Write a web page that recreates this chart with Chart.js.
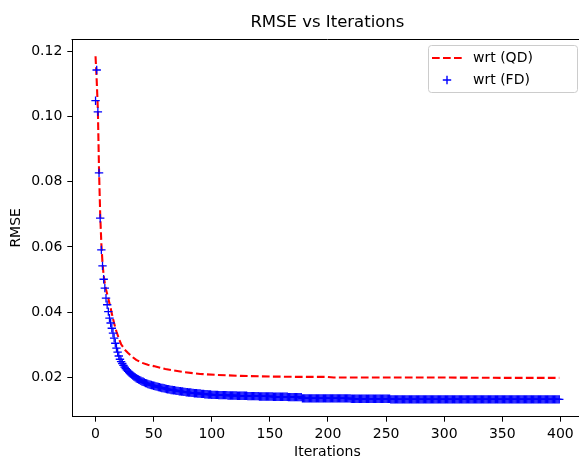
<!DOCTYPE html>
<html>
<head>
<meta charset="utf-8">
<script src="https://cdn.jsdelivr.net/npm/chart.js@4.4.1/dist/chart.umd.min.js"></script>
<style>
  html, body { margin: 0; padding: 0; background: #fff; overflow: hidden; }
  #wrap { width: 588px; height: 461px; }
</style>
</head>
<body>
<div id="wrap"><canvas id="rmseChart" width="588" height="461"></canvas></div>
<script>
/*---------------------------- data ------------------------------------*/

var titleText = "RMSE vs Iterations";
var xLabel = "Iterations";
var yLabel = "RMSE";

// iteration index 0..399 (one blue marker per iteration)
var iterations = Array.from({ length: 400 }, function (_, i) { return i; });

// red dashed line, wrt (QD), read at a set of iterations
var qdIters = [0, 1, 2, 3, 4, 5, 6, 7, 8, 9, 10, 11, 12, 13, 14, 15, 16, 17, 18, 20,
  22, 25, 28, 31, 35, 40, 45, 50, 60, 75, 90, 104, 125, 150, 175, 199, 205, 250, 300, 350, 399];
var qdRmse = [0.1184, 0.1110, 0.1020, 0.0835, 0.0700, 0.0610, 0.0550, 0.0512, 0.0488, 0.0470,
  0.0456, 0.0442, 0.0427, 0.0412, 0.0396, 0.0380, 0.0366, 0.0353, 0.0341, 0.0320,
  0.0302, 0.0286, 0.0275, 0.0265, 0.0254, 0.0245, 0.0239, 0.0235, 0.0226, 0.0217,
  0.0211, 0.0208, 0.0205, 0.0203, 0.0202, 0.0202, 0.0200, 0.0200, 0.0200, 0.0199, 0.0199];

// blue "+" markers, wrt (FD), one value per iteration
var fdRmse = [
  0.1048, 0.1142, 0.1014, 0.0827, 0.0688, 0.0591, 0.0542, 0.0501, 0.0474, 0.0443, // 0
  0.0423, 0.0402, 0.0382, 0.0367, 0.0351, 0.0336, 0.0321, 0.0305, 0.0290, 0.0278, // 10
  0.0266, 0.0256, 0.0249, 0.0243, 0.0237, 0.0232, 0.0227, 0.0223, 0.0219, 0.0215, // 20
  0.0212, 0.0209, 0.0206, 0.0203, 0.0201, 0.0198, 0.0196, 0.0194, 0.0192, 0.0190, // 30
  0.0188, 0.0187, 0.0185, 0.0183, 0.0182, 0.0180, 0.0179, 0.0178, 0.0177, 0.0176, // 40
  0.0175, 0.0174, 0.0173, 0.0172, 0.0171, 0.0170, 0.0169, 0.0168, 0.0168, 0.0167, // 50
  0.0166, 0.0165, 0.0164, 0.0164, 0.0163, 0.0162, 0.0162, 0.0161, 0.0161, 0.0160, // 60
  0.0159, 0.0159, 0.0158, 0.0158, 0.0157, 0.0157, 0.0156, 0.0156, 0.0155, 0.0155, // 70
  0.0154, 0.0154, 0.0154, 0.0153, 0.0153, 0.0152, 0.0152, 0.0152, 0.0151, 0.0151, // 80
  0.0151, 0.0150, 0.0150, 0.0150, 0.0149, 0.0149, 0.0149, 0.0148, 0.0148, 0.0148, // 90
  0.0147, 0.0147, 0.0147, 0.0147, 0.0147, 0.0147, 0.0146, 0.0146, 0.0146, 0.0146, // 100
  0.0146, 0.0146, 0.0146, 0.0146, 0.0145, 0.0145, 0.0145, 0.0145, 0.0145, 0.0145, // 110
  0.0145, 0.0145, 0.0144, 0.0144, 0.0144, 0.0144, 0.0144, 0.0144, 0.0144, 0.0144, // 120
  0.0144, 0.0143, 0.0143, 0.0143, 0.0143, 0.0143, 0.0143, 0.0143, 0.0143, 0.0143, // 130
  0.0143, 0.0142, 0.0142, 0.0142, 0.0142, 0.0142, 0.0142, 0.0142, 0.0142, 0.0142, // 140
  0.0142, 0.0142, 0.0142, 0.0141, 0.0141, 0.0141, 0.0141, 0.0141, 0.0141, 0.0141, // 150
  0.0141, 0.0141, 0.0141, 0.0141, 0.0141, 0.0141, 0.0140, 0.0140, 0.0140, 0.0140, // 160
  0.0140, 0.0140, 0.0140, 0.0140, 0.0140, 0.0140, 0.0140, 0.0140, 0.0136, 0.0136, // 170
  0.0136, 0.0136, 0.0136, 0.0136, 0.0136, 0.0136, 0.0136, 0.0136, 0.0136, 0.0136, // 180
  0.0136, 0.0136, 0.0136, 0.0136, 0.0136, 0.0136, 0.0136, 0.0136, 0.0136, 0.0136, // 190
  0.0136, 0.0136, 0.0136, 0.0136, 0.0136, 0.0136, 0.0136, 0.0136, 0.0136, 0.0136, // 200
  0.0136, 0.0136, 0.0136, 0.0136, 0.0136, 0.0136, 0.0136, 0.0136, 0.0136, 0.0136, // 210
  0.0135, 0.0135, 0.0135, 0.0135, 0.0135, 0.0135, 0.0135, 0.0135, 0.0135, 0.0135, // 220
  0.0135, 0.0135, 0.0135, 0.0135, 0.0135, 0.0135, 0.0135, 0.0135, 0.0135, 0.0135, // 230
  0.0135, 0.0135, 0.0135, 0.0135, 0.0135, 0.0135, 0.0135, 0.0135, 0.0135, 0.0135, // 240
  0.0135, 0.0135, 0.0135, 0.0135, 0.0133, 0.0133, 0.0133, 0.0133, 0.0133, 0.0133, // 250
  0.0133, 0.0133, 0.0133, 0.0133, 0.0133, 0.0133, 0.0133, 0.0133, 0.0133, 0.0133, // 260
  0.0133, 0.0133, 0.0133, 0.0133, 0.0133, 0.0133, 0.0133, 0.0133, 0.0133, 0.0133, // 270
  0.0133, 0.0133, 0.0133, 0.0133, 0.0133, 0.0133, 0.0133, 0.0133, 0.0133, 0.0133, // 280
  0.0133, 0.0133, 0.0133, 0.0133, 0.0133, 0.0133, 0.0133, 0.0133, 0.0133, 0.0133, // 290
  0.0133, 0.0133, 0.0133, 0.0133, 0.0133, 0.0133, 0.0133, 0.0133, 0.0133, 0.0133, // 300
  0.0133, 0.0133, 0.0133, 0.0133, 0.0133, 0.0133, 0.0133, 0.0133, 0.0133, 0.0133, // 310
  0.0133, 0.0133, 0.0133, 0.0133, 0.0133, 0.0133, 0.0133, 0.0133, 0.0133, 0.0133, // 320
  0.0133, 0.0133, 0.0133, 0.0133, 0.0133, 0.0133, 0.0133, 0.0133, 0.0133, 0.0133, // 330
  0.0133, 0.0133, 0.0133, 0.0133, 0.0133, 0.0133, 0.0133, 0.0133, 0.0133, 0.0133, // 340
  0.0133, 0.0133, 0.0133, 0.0133, 0.0133, 0.0133, 0.0133, 0.0133, 0.0133, 0.0133, // 350
  0.0133, 0.0133, 0.0133, 0.0133, 0.0133, 0.0133, 0.0133, 0.0133, 0.0133, 0.0133, // 360
  0.0133, 0.0133, 0.0133, 0.0133, 0.0133, 0.0133, 0.0133, 0.0133, 0.0133, 0.0133, // 370
  0.0133, 0.0133, 0.0133, 0.0133, 0.0133, 0.0133, 0.0133, 0.0133, 0.0133, 0.0133, // 380
  0.0133, 0.0133, 0.0133, 0.0133, 0.0133, 0.0133, 0.0133, 0.0133, 0.0133, 0.0133  // 390
];

var seriesNames = ["wrt (QD)", "wrt (FD)"];
var xTicks = [0, 50, 100, 150, 200, 250, 300, 350, 400];
var yTicks = [0.02, 0.04, 0.06, 0.08, 0.10, 0.12];

/*---------------------------- plugins ------------------------------------*/

// top and right spines (chart.js only draws the axis borders)
var frame = {
  id: "frame",
  afterDraw: function (chart) {
    var a = chart.chartArea, ctx = chart.ctx;
    ctx.save();
    ctx.strokeStyle = "#000";
    ctx.lineWidth = 1;
    ctx.beginPath();
    ctx.moveTo(Math.round(a.left) - 0.5, Math.round(a.top) + 0.5);
    ctx.lineTo(Math.round(a.right) + 0.5, Math.round(a.top) + 0.5);
    ctx.lineTo(Math.round(a.right) + 0.5, Math.round(a.bottom));
    ctx.stroke();
    ctx.restore();
  }
};

// matplotlib style legend box inside the plot, upper right
var boxLegend = {
  id: "boxLegend",
  afterDraw: function (chart) {
    var a = chart.chartArea, ctx = chart.ctx;
    var ds = chart.data.datasets;
    var x = a.right - 154.5, y = a.top + 6, w = 149, h = 47;
    ctx.save();
    ctx.fillStyle = "rgba(255,255,255,0.8)";
    ctx.strokeStyle = "#cccccc";
    ctx.lineWidth = 1;
    ctx.beginPath();
    ctx.roundRect(Math.round(x) + 0.5, Math.round(y) + 0.5, w, h, 3);
    ctx.fill();
    ctx.stroke();

    ctx.font = "14px 'DejaVu Sans'";
    ctx.fillStyle = "#000";
    ctx.textBaseline = "middle";

    // row 1: dashed line
    var r1 = y + 13;
    ctx.strokeStyle = ds[0].borderColor;
    ctx.lineWidth = 2.1;
    ctx.setLineDash([7.7, 3.3]);
    ctx.beginPath();
    ctx.moveTo(x + 4, r1);
    ctx.lineTo(x + 34, r1);
    ctx.stroke();
    ctx.setLineDash([]);
    ctx.fillText(ds[0].label, x + 45, r1);

    // row 2: plus marker
    var r2 = y + 35;
    ctx.strokeStyle = ds[1].pointBorderColor;
    ctx.lineWidth = 1.4;
    ctx.beginPath();
    ctx.moveTo(x + 19 - 4.2, r2);
    ctx.lineTo(x + 19 + 4.2, r2);
    ctx.moveTo(x + 19, r2 - 4.2);
    ctx.lineTo(x + 19, r2 + 4.2);
    ctx.stroke();
    ctx.fillText(ds[1].label, x + 45, r2);
    ctx.restore();
  }
};

/*---------------------------- chart ------------------------------------*/

Chart.defaults.font.family = "'DejaVu Sans', sans-serif";
Chart.defaults.color = "#000";

new Chart("rmseChart", {
  type: "line",
  data: {
    datasets: [{
      label: seriesNames[0],
      data: qdIters.map(function (it, i) { return { x: it, y: qdRmse[i] }; }),
      borderColor: "#ff0000",
      borderWidth: 2.1,
      borderDash: [7.7, 3.3],
      pointRadius: 0,
      fill: false,
      tension: 0,
      order: 2
    },
    {
      label: seriesNames[1],
      data: iterations.map(function (it, i) { return { x: it, y: fdRmse[i] }; }),
      showLine: false,
      pointStyle: "cross",
      pointRadius: 4.2,
      pointHoverRadius: 4.2,
      pointBorderColor: "#0000ff",
      pointBackgroundColor: "#0000ff",
      pointBorderWidth: 1.3,
      order: 1
    }]
  },
  options: {
    responsive: false,
    animation: false,
    events: [],
    layout: { padding: { left: 0, right: 5.3, top: 0, bottom: 0 } },
    plugins: {
      legend: { display: false },
      tooltip: { enabled: false },
      title: {
        display: true,
        text: titleText,
        fullSize: false,
        font: { size: 16.5, weight: "normal" },
        padding: { top: 13.3, bottom: 5.9 }
      }
    },
    scales: {
      x: {
        type: "linear",
        position: "bottom",
        min: -20,
        max: 419,
        afterBuildTicks: function (s) { s.ticks = xTicks.map(function (v) { return { value: v }; }); },
        afterFit: function (s) { s.height = 44.3; },
        ticks: { font: { size: 14 }, padding: 4, maxRotation: 0 },
        grid: { drawOnChartArea: false, drawTicks: true, tickLength: 5, tickColor: "#000" },
        border: { display: true, color: "#000", width: 1 },
        title: { display: true, text: xLabel, font: { size: 14 }, padding: { top: 0, bottom: 0 } }
      },
      y: {
        min: 0.0080,
        max: 0.1237,
        afterBuildTicks: function (s) { s.ticks = yTicks.map(function (v) { return { value: v }; }); },
        afterFit: function (s) { s.width = 72.3; },
        ticks: {
          font: { size: 14 },
          padding: 5,
          callback: function (v) { return Number(v).toFixed(2); }
        },
        grid: { drawOnChartArea: false, drawTicks: true, tickLength: 5, tickColor: "#000" },
        border: { display: true, color: "#000", width: 1 },
        title: { display: true, text: yLabel, font: { size: 14 }, padding: { top: 7.6, bottom: 0 } }
      }
    }
  },
  plugins: [frame, boxLegend]
});
</script>
</body>
</html>
